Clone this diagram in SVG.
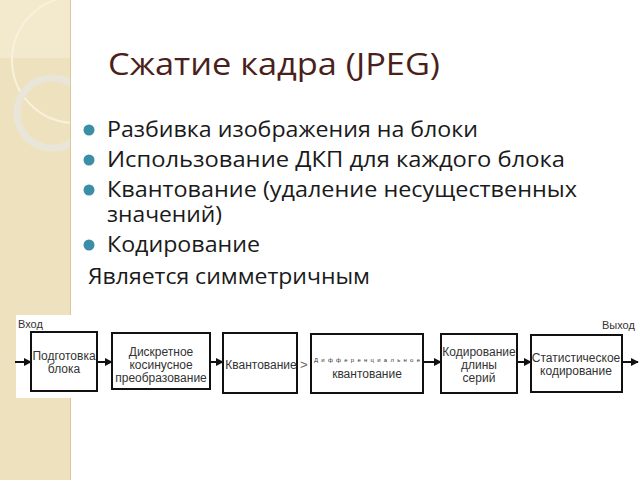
<svg xmlns="http://www.w3.org/2000/svg" width="640" height="480" viewBox="0 0 640 480">
<defs>
<style>
.title{font-family:"Open Sans","Noto Sans","Liberation Sans",sans-serif;font-size:31px;fill:#4b1f1c}
.bul{font-family:"Open Sans","Noto Sans","Liberation Sans",sans-serif;font-size:21.5px;fill:#1a1a1a}
.dot{fill:#3a8ea6}
.box{fill:#fff;stroke:#111;stroke-width:2}
.lbl{font-family:"Liberation Sans",Arial,sans-serif;font-size:12px;fill:#333;text-anchor:middle}
.tiny{font-family:"Liberation Sans",Arial,sans-serif;font-size:6px;fill:#333;text-anchor:middle}
.io{font-family:"Liberation Sans",Arial,sans-serif;font-size:11px;fill:#333}
.edge{stroke:#111;stroke-width:2;fill:none;marker-end:url(#ah)}
</style>
<marker id="ah" viewBox="0 0 10 10" refX="9" refY="5" markerWidth="4" markerHeight="4" orient="auto" markerUnits="strokeWidth">
<path d="M0,0 L10,5 L0,10 z" fill="#111"/>
</marker>
<clipPath id="band"><rect x="0" y="0" width="70" height="480"/></clipPath>
</defs>
<rect width="640" height="480" fill="#fff"/>
<g id="band-deco" clip-path="url(#band)">
<rect x="0" y="0" width="70" height="480" fill="#eee1bd"/>
<rect x="0" y="0" width="70" height="58" fill="#f3e9cc"/>
<circle cx="75" cy="60" r="63" fill="none" stroke="#f8f1dc" stroke-width="2"/>
<circle cx="52" cy="113" r="35" fill="none" stroke="#e9e5d9" stroke-width="7"/>
</g>
<line x1="70.5" y1="0" x2="70.5" y2="480" stroke="#d9c99c" stroke-width="1"/>
<text class="title" x="108" y="75" textLength="332" lengthAdjust="spacingAndGlyphs">Сжатие кадра (JPEG)</text>
<g id="bullets">
<circle class="dot" cx="89" cy="130" r="5.5"/>
<circle class="dot" cx="89" cy="160" r="5.5"/>
<circle class="dot" cx="89" cy="190" r="5.5"/>
<circle class="dot" cx="89" cy="245" r="5.5"/>
<text class="bul" x="107" y="137" textLength="371" lengthAdjust="spacingAndGlyphs">Разбивка изображения на блоки</text>
<text class="bul" x="107" y="167" textLength="458" lengthAdjust="spacingAndGlyphs">Использование ДКП для каждого блока</text>
<text class="bul" x="107" y="197" textLength="470" lengthAdjust="spacingAndGlyphs">Квантование (удаление несущественных</text>
<text class="bul" x="107" y="222" textLength="115" lengthAdjust="spacingAndGlyphs">значений)</text>
<text class="bul" x="107" y="252" textLength="153" lengthAdjust="spacingAndGlyphs">Кодирование</text>
<text class="bul" x="88" y="284" textLength="282" lengthAdjust="spacingAndGlyphs">Является симметричным</text>
</g>
<rect x="16" y="315" width="624" height="83" fill="#fff"/>
<text class="io" x="18" y="328">Вход</text>
<text class="io" x="602" y="329">Выход</text>
<g id="connectors">
<line class="edge" x1="15" y1="362" x2="31" y2="362"/>
<line class="edge" x1="97" y1="362" x2="112" y2="362"/>
<line class="edge" x1="210" y1="362" x2="223" y2="362"/>
<text x="300" y="369" font-family="Liberation Sans,Arial,sans-serif" font-size="13" fill="#666">&gt;</text>
<line class="edge" x1="423" y1="362" x2="441" y2="362"/>
<line class="edge" x1="517" y1="362" x2="531" y2="362"/>
<line class="edge" x1="622" y1="362" x2="638" y2="362"/>
</g>
<g id="n1"><rect class="box" x="31" y="332" width="66" height="59"/><text class="lbl" x="64" y="360">Подготовка</text><text class="lbl" x="64" y="373">блока</text></g>
<g id="n2"><rect class="box" x="112" y="333" width="98" height="56"/><text class="lbl" x="161" y="356">Дискретное</text><text class="lbl" x="161" y="369">косинусное</text><text class="lbl" x="161" y="382">преобразование</text></g>
<g id="n3"><rect class="box" x="223" y="333" width="74" height="60"/><text class="lbl" x="261" y="369">Квантование</text></g>
<g id="n4"><rect class="box" x="311" y="334" width="112" height="59"/><text class="tiny" x="367" y="362" textLength="106" lengthAdjust="spacing">Дифференциальное</text><text class="lbl" x="367" y="378">квантование</text></g>
<g id="n5"><rect class="box" x="441" y="334" width="76" height="59"/><text class="lbl" x="479" y="356">Кодирование</text><text class="lbl" x="479" y="369">длины</text><text class="lbl" x="479" y="382">серий</text></g>
<g id="n6"><rect class="box" x="531" y="335" width="91" height="57"/><text class="lbl" x="576" y="362">Статистическое</text><text class="lbl" x="576" y="375">кодирование</text></g>
</svg>
